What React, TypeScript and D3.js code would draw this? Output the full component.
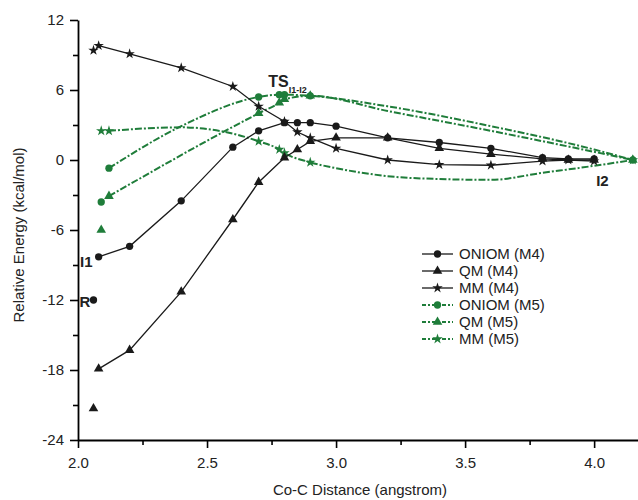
import React, { useRef, useEffect } from 'react';
import * as d3 from 'd3';

type Pt = [number, number];

// Co-C distance (angstrom) of the scan points, energies in kcal/mol
const distancesM4 = [2.08, 2.2, 2.4, 2.6, 2.7, 2.8, 2.85, 2.9, 3.0, 3.2, 3.4, 3.6, 3.8, 3.9, 4.0];
const oniomM4 = [-8.3, -7.4, -3.5, 1.1, 2.5, 3.2, 3.2, 3.2, 2.9, 1.9, 1.5, 1.0, 0.2, 0.1, 0.1];
const qmM4 = [-17.9, -16.3, -11.3, -5.1, -1.9, 0.2, 0.9, 1.6, 1.9, 1.9, 1.0, 0.5, 0.1, 0.0, 0.0];
const mmM4 = [9.8, 9.1, 7.9, 6.3, 4.6, 3.3, 2.4, 1.9, 1.0, 0.0, -0.4, -0.45, -0.1, 0.0, -0.1];

// reactant (R) points, not joined to the scan
const reactantDistM4 = 2.06;
const reactantM4 = { oniom: -12.0, qm: -21.3, mm: 9.4 };
const reactantDistM5 = 2.09;
const reactantM5 = { oniom: -3.6, qm: -6.0, mm: 2.5 };

// M5 computed points (with markers)
const distancesM5 = [2.12, 2.7, 2.78, 2.8, 2.9, 4.15];
const oniomM5 = [-0.7, 5.4, 5.6, 5.6, 5.5, 0.0];
const qmM5 = [-3.1, 4.0, 4.9, 5.2, 5.5, 0.0];
const mmM5 = [2.5, 1.6, 0.9, 0.6, -0.2, 0.0];

// M5 curves read between the markers
const oniomM5Curve: Pt[] = [[2.4, 2.9], [3.2, 4.6], [3.6, 2.9], [4.0, 0.9]];
const qmM5Curve: Pt[] = [[3.2, 4.2], [3.6, 2.5], [4.0, 0.7]];
const mmM5Curve: Pt[] = [[2.4, 2.8], [3.0, -0.7], [3.3, -1.55], [3.6, -1.7], [3.8, -1.1], [4.0, -0.5]];

const xMajor = [2.0, 2.5, 3.0, 3.5, 4.0];
const xMinor = [2.25, 2.75, 3.25, 3.75];
const yMajor = [-24, -18, -12, -6, 0, 6, 12];
const yMinor = [-21, -15, -9, -3, 3, 9];

const legendNames = ['ONIOM (M4)', 'QM (M4)', 'MM (M4)', 'ONIOM (M5)', 'QM (M5)', 'MM (M5)'];

const BLACK = '#1a1a1a';
const GREEN = '#1f7d3a';
const DASH = '7,2,2,2';

export default function App() {
    const svgRef = useRef<SVGSVGElement>(null);
    const width = 638;
    const height = 500;

    useEffect(() => {
        const svg = d3.select(svgRef.current);
        svg.selectAll('*').remove();

        const x = d3.scaleLinear().domain([2.0, 4.17]).range([78, 638]);
        const y = d3.scaleLinear().domain([-24, 12]).range([440, 20]);

        const font = 'Liberation Sans, Arial, sans-serif';

        const zip = (xs: number[], ys: number[]): Pt[] => xs.map((d, i) => [d, ys[i]]);

        const series = [
            { pts: zip(distancesM4, oniomM4), curve: [] as Pt[], shape: d3.symbolCircle, color: BLACK, dash: null, r: [reactantDistM4, reactantM4.oniom] as Pt },
            { pts: zip(distancesM4, qmM4), curve: [] as Pt[], shape: d3.symbolTriangle, color: BLACK, dash: null, r: [reactantDistM4, reactantM4.qm] as Pt },
            { pts: zip(distancesM4, mmM4), curve: [] as Pt[], shape: d3.symbolStar, color: BLACK, dash: null, r: [reactantDistM4, reactantM4.mm] as Pt },
            { pts: zip(distancesM5, oniomM5), curve: oniomM5Curve, shape: d3.symbolCircle, color: GREEN, dash: DASH, r: [reactantDistM5, reactantM5.oniom] as Pt },
            { pts: zip(distancesM5, qmM5), curve: qmM5Curve, shape: d3.symbolTriangle, color: GREEN, dash: DASH, r: [reactantDistM5, reactantM5.qm] as Pt },
            { pts: zip(distancesM5, mmM5), curve: mmM5Curve, shape: d3.symbolStar, color: GREEN, dash: DASH, r: [reactantDistM5, reactantM5.mm] as Pt },
        ];

        const symSize = (shape: d3.SymbolType) =>
            shape === d3.symbolCircle ? 42 : shape === d3.symbolTriangle ? 40 : 34;

        // Axes
        const xAxis = svg.append('g')
            .attr('transform', `translate(0,${y(-24)})`)
            .call(d3.axisBottom(x).tickValues(xMajor).tickSize(8).tickPadding(9).tickSizeOuter(0)
                .tickFormat(d => d3.format('.1f')(d as number)));
        xAxis.selectAll('.tick text').attr('font-size', 15).attr('font-family', font).attr('fill', '#222');
        xAxis.selectAll('line').attr('stroke-width', 1.6);
        xAxis.select('.domain').attr('stroke-width', 1.8);
        svg.append('g')
            .attr('transform', `translate(0,${y(-24)})`)
            .call(d3.axisBottom(x).tickValues(xMinor).tickSize(5).tickFormat(() => '').tickSizeOuter(0))
            .call(g => g.select('.domain').remove())
            .selectAll('line').attr('stroke-width', 1.6);

        const yAxis = svg.append('g')
            .attr('transform', `translate(${x(2.0)},0)`)
            .call(d3.axisLeft(y).tickValues(yMajor).tickSize(8).tickPadding(6).tickSizeOuter(0)
                .tickFormat(d => String(d)));
        yAxis.selectAll('.tick text').attr('font-size', 15).attr('font-family', font).attr('fill', '#222');
        yAxis.selectAll('line').attr('stroke-width', 1.6);
        yAxis.select('.domain').attr('stroke-width', 1.8);
        svg.append('g')
            .attr('transform', `translate(${x(2.0)},0)`)
            .call(d3.axisLeft(y).tickValues(yMinor).tickSize(5).tickFormat(() => '').tickSizeOuter(0))
            .call(g => g.select('.domain').remove())
            .selectAll('line').attr('stroke-width', 1.6);

        // Axis titles
        svg.append('text')
            .attr('x', 360).attr('y', 495)
            .attr('text-anchor', 'middle')
            .attr('font-size', 15).attr('font-family', font).attr('fill', '#222')
            .text('Co-C Distance (angstrom)');
        svg.append('text')
            .attr('transform', `translate(24,${y(-6) + 5}) rotate(-90)`)
            .attr('text-anchor', 'middle')
            .attr('font-size', 15).attr('font-family', font).attr('fill', '#222')
            .text('Relative Energy (kcal/mol)');

        // Lines and markers (green first, black on top)
        const order = [3, 4, 5, 0, 1, 2];
        order.forEach(i => {
            const s = series[i];
            const all = [...s.pts, ...s.curve].sort((a, b) => a[0] - b[0]);
            const line = d3.line<Pt>()
                .x(d => x(d[0]))
                .y(d => y(d[1]))
                .curve(s.dash ? d3.curveMonotoneX : d3.curveLinear);
            svg.append('path')
                .datum(all)
                .attr('fill', 'none')
                .attr('stroke', s.color)
                .attr('stroke-width', s.dash ? 2 : 1.3)
                .attr('stroke-dasharray', s.dash)
                .attr('d', line);
            const sym = d3.symbol().type(s.shape).size(symSize(s.shape));
            svg.append('g')
                .selectAll('path')
                .data([s.r, ...s.pts])
                .join('path')
                .attr('transform', d => `translate(${x(d[0])},${y(d[1])})`)
                .attr('fill', s.color)
                .attr('d', sym);
        });

        // Annotations
        const ann = (label: string, px: number, py: number, size: number) =>
            svg.append('text')
                .attr('x', px).attr('y', py)
                .attr('font-size', size).attr('font-weight', 'bold')
                .attr('font-family', font).attr('fill', '#222')
                .text(label);
        ann('I1', x(2.008), y(-9.15), 15);
        ann('R', x(2.006), y(-12.6), 15);
        ann('I2', x(4.008), y(-2.25), 15);
        const ts = ann('TS', x(2.737), y(6.25), 16);
        ts.append('tspan').attr('font-size', 9).attr('dy', 6).text('I1-I2');

        // Legend
        const legend = svg.append('g').attr('transform', 'translate(422,254)');
        legendNames.forEach((name, i) => {
            const s = series[i];
            const row = legend.append('g').attr('transform', `translate(0,${i * 17})`);
            row.append('line')
                .attr('x1', 0).attr('x2', 31)
                .attr('stroke', s.color)
                .attr('stroke-width', s.dash ? 2 : 1.3)
                .attr('stroke-dasharray', s.dash ? '4,2,2,2' : null);
            row.append('path')
                .attr('transform', 'translate(15.5,0)')
                .attr('fill', s.color)
                .attr('d', d3.symbol().type(s.shape).size(symSize(s.shape))());
            row.append('text')
                .attr('x', 37).attr('dy', '0.35em')
                .attr('font-size', 15).attr('font-family', font).attr('fill', '#222')
                .text(name);
        });
    }, []);

    return (
        <svg ref={svgRef} width={width} height={height}
            style={{ position: 'absolute', left: 0, top: 0, background: '#fff' }} />
    );
}
